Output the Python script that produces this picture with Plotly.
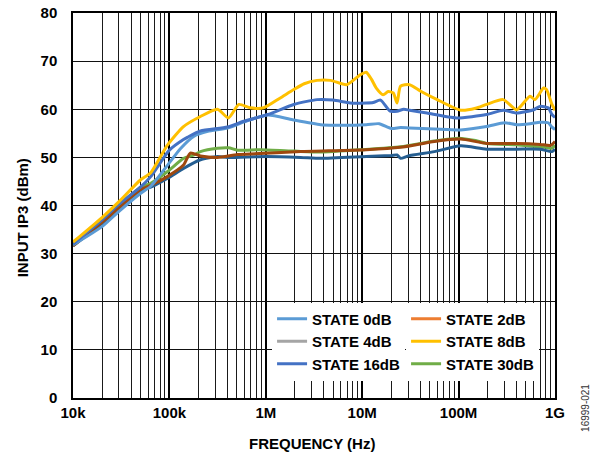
import plotly.graph_objects as go

# ---------------- data ----------------
f_0db = [1e4, 2e4, 3e4, 5e4, 6.4e4, 9.5e4, 1.3e5, 1.8e5, 2.5e5, 4e5, 6.4e5, 1.05e6, 1.9e6, 3.7e6, 5.2e6,
         1.1e7, 1.5e7, 2e7, 2.5e7, 3.1e7, 5.6e7, 1.05e8, 1.95e8, 3e8, 4e8, 5.5e8, 7e8, 8.5e8, 9.3e8, 1e9]
v_0db = [31.8, 35.6, 38.8, 42.5, 44.0, 48.3, 51.8, 54.4, 55.4, 56.1, 57.6, 58.8, 57.8, 56.8, 56.7,
         56.8, 57.0, 56.0, 56.2, 56.1, 55.9, 55.7, 56.4, 57.2, 56.8, 57.0, 57.3, 57.2, 56.3, 55.8]

f_2db = [1e4, 2e4, 3e4, 5e4, 6.4e4, 9.5e4, 1.4e5, 1.65e5, 2.1e5, 3.15e5, 5.1e5, 6.9e5, 2.3e6, 1.1e7,
         2.5e7, 5.6e7, 1.05e8, 1.95e8, 4e8, 7e8, 9e8, 1e9]
v_2db = [31.6, 36.5, 39.5, 43.3, 44.2, 46.0, 48.4, 50.9, 50.3, 50.0, 50.6, 50.7, 51.2, 51.6,
         52.1, 53.3, 53.8, 52.9, 52.9, 52.7, 52.5, 53.3]

f_4db = [1e4, 2e4, 3e4, 5e4, 6.4e4, 9.5e4, 1.4e5, 2.1e5, 3.15e5, 4e5, 1e6, 2.3e6, 3.7e6, 1.1e7, 2e7,
         2.3e7, 2.5e7, 3e7, 5.6e7, 1.05e8, 1.95e8, 4e8, 7e8, 9.3e8, 1e9]
v_4db = [31.6, 36.3, 39.2, 43.0, 43.8, 45.6, 47.7, 49.5, 50.2, 50.0, 50.2, 50.0, 49.8, 50.2, 50.4,
         50.5, 49.8, 50.3, 51.2, 52.4, 51.7, 51.7, 51.7, 51.2, 51.7]

f_8db = [1e4, 2e4, 3e4, 5e4, 6.4e4, 9.5e4, 1.4e5, 2.1e5, 3.15e5, 4.1e5, 5.25e5, 6.9e5, 9.5e5, 1.4e6,
         1.95e6, 2.5e6, 3.4e6, 4.7e6, 6.9e6, 9.6e6, 1.1e7, 1.25e7, 1.4e7, 1.65e7, 1.86e7, 2.1e7,
         2.3e7, 2.5e7, 3.1e7, 4e7, 6e7, 1.05e8, 1.5e8, 1.95e8, 2.9e8, 4e8, 5.5e8, 6.2e8, 7.6e8,
         8.15e8, 9.3e8, 1e9]
v_8db = [32.4, 37.5, 40.8, 45.3, 46.8, 52.5, 56.4, 58.5, 60.0, 58.2, 61.0, 60.3, 60.3, 62.3,
         64.1, 65.3, 66.0, 66.0, 65.1, 67.2, 67.7, 66.2, 64.4, 63.0, 63.7, 63.4,
         61.3, 64.8, 65.1, 63.8, 62.0, 59.8, 60.2, 61.0, 62.0, 59.9, 62.7, 62.0, 64.4,
         64.1, 61.0, 59.8]

f_16db = [1e4, 2e4, 3e4, 5e4, 6.4e4, 1e5, 1.4e5, 1.55e5, 2.1e5, 4e5, 5.9e5, 1.05e6, 1.95e6, 3.4e6,
          5e6, 7.5e6, 1.1e7, 1.3e7, 1.55e7, 1.95e7, 2.3e7, 2.7e7, 3.1e7, 4.7e7, 9.5e7, 1.95e8,
          2.9e8, 4e8, 6e8, 7e8, 8.5e8, 9.3e8, 1e9]
v_16db = [32.0, 37.0, 40.3, 43.8, 46.0, 51.5, 53.7, 54.2, 55.5, 56.3, 57.5, 58.9, 61.0, 62.0,
          61.9, 61.3, 61.3, 61.4, 61.9, 59.6, 59.6, 60.0, 59.8, 59.2, 58.2, 58.9,
          59.8, 59.2, 59.9, 60.6, 60.3, 58.9, 58.3]

f_30db = [1e4, 2e4, 3e4, 5e4, 6.4e4, 9.5e4, 1.4e5, 1.8e5, 2.1e5, 3.15e5, 4.1e5, 5.1e5, 8.9e5, 2e6,
          3.7e6, 1e7, 2.5e7, 5.6e7, 1e8, 1.5e8, 1.95e8, 4e8, 6e8, 8e8, 9.3e8, 1e9]
v_30db = [31.9, 36.8, 39.8, 43.8, 44.6, 47.0, 49.8, 50.5, 51.2, 51.9, 52.0, 51.5, 51.6, 51.3,
          51.1, 51.6, 52.2, 53.4, 54.0, 53.5, 52.9, 52.6, 52.3, 52.1, 51.9, 52.5]

x_tickvals = [1e4, 1e5, 1e6, 1e7, 1e8, 1e9]
x_ticktext = ["10k", "100k", "1M", "10M", "100M", "1G"]
y_tickvals = [0, 10, 20, 30, 40, 50, 60, 70, 80]

# (name, freqs, values, line colour, legend colour, legend column)
series = [
    ("STATE 30dB", f_30db, v_30db, "#70AD47", "#70AD47", "legend2"),
    ("STATE 4dB", f_4db, v_4db, "#255E91", "#A5A5A5", "legend"),
    ("STATE 2dB", f_2db, v_2db, "#9E480E", "#ED7D31", "legend2"),
    ("STATE 0dB", f_0db, v_0db, "#5B9BD5", "#5B9BD5", "legend"),
    ("STATE 16dB", f_16db, v_16db, "#4472C4", "#4472C4", "legend"),
    ("STATE 8dB", f_8db, v_8db, "#FFC000", "#FFC000", "legend2"),
]
legend_order = ["STATE 0dB", "STATE 4dB", "STATE 16dB", "STATE 2dB", "STATE 8dB", "STATE 30dB"]

FONT = "Liberation Sans, Arial, sans-serif"

fig = go.Figure()
for name, fx, fy, col, lcol, lg in series:
    fig.add_trace(go.Scatter(x=fx, y=fy, mode="lines", name=name, showlegend=False,
                             line=dict(color=col, width=3, shape="spline", smoothing=0.6),
                             hoverinfo="skip"))

lookup = {s[0]: s for s in series}
for i, name in enumerate(legend_order):
    _, _, _, col, lcol, lg = lookup[name]
    fig.add_trace(go.Scatter(x=[None], y=[None], mode="lines", name=name, legend=lg,
                             legendrank=i, line=dict(color=lcol, width=3)))

# minor grid values 2..9 per decade
minor_vals = [m * 10 ** d for d in range(4, 9) for m in range(2, 10)]

fig.update_layout(
    width=592, height=459,
    margin=dict(l=73, r=37, t=13, b=61, autoexpand=False),
    paper_bgcolor="white", plot_bgcolor="white",
    font=dict(family=FONT, size=15, color="black", weight="bold"),
    xaxis=dict(type="log", range=[4, 9], tickmode="array", tickvals=x_tickvals,
               ticktext=x_ticktext, showgrid=True, gridcolor="#000000", gridwidth=1.5,
               minor=dict(tickmode="array", tickvals=minor_vals, showgrid=True,
                          gridcolor="#1a1a1a", gridwidth=1.3, ticks=""),
               showline=True, linecolor="black", linewidth=1.5, mirror=True,
               ticks="", zeroline=False, automargin=False,
               tickfont=dict(family=FONT, size=15, weight="bold")),
    yaxis=dict(range=[0, 80], tickmode="array", tickvals=y_tickvals, showgrid=True,
               gridcolor="#111111", gridwidth=1.3, showline=True, linecolor="black",
               linewidth=1.5, mirror=True, ticks="", zeroline=False, automargin=False,
               tickfont=dict(family=FONT, size=15, weight="bold"), ticklabelstandoff=11),
    legend=dict(x=0.413, y=0.248, xanchor="left", yanchor="top", bgcolor="white",
                borderwidth=0, font=dict(family=FONT, size=15, weight="bold"),
                itemwidth=30, tracegroupgap=0),
    legend2=dict(x=0.691, y=0.248, xanchor="left", yanchor="top", bgcolor="white",
                 borderwidth=0, font=dict(family=FONT, size=15, weight="bold"),
                 itemwidth=30, tracegroupgap=0, entrywidth=100),
    annotations=[
        dict(text="FREQUENCY (Hz)", xref="paper", yref="paper", x=0.496, y=-0.119,
             xanchor="center", yanchor="middle", showarrow=False,
             font=dict(family=FONT, size=15, weight="bold")),
        dict(text="INPUT IP3 (dBm)", xref="paper", yref="paper", x=-0.104, y=0.469,
             xanchor="center", yanchor="middle", textangle=-90, showarrow=False,
             font=dict(family=FONT, size=15, weight="bold")),
        dict(text="16999-021", xref="paper", yref="paper", x=1.062, y=-0.026,
             xanchor="center", yanchor="middle", textangle=-90, showarrow=False,
             font=dict(family=FONT, size=10, color="#333333", weight="normal")),
    ],
)

fig.write_html("out.html", config={"displayModeBar": False},
               post_script="document.body.style.margin='0';document.body.style.overflow='hidden';")
